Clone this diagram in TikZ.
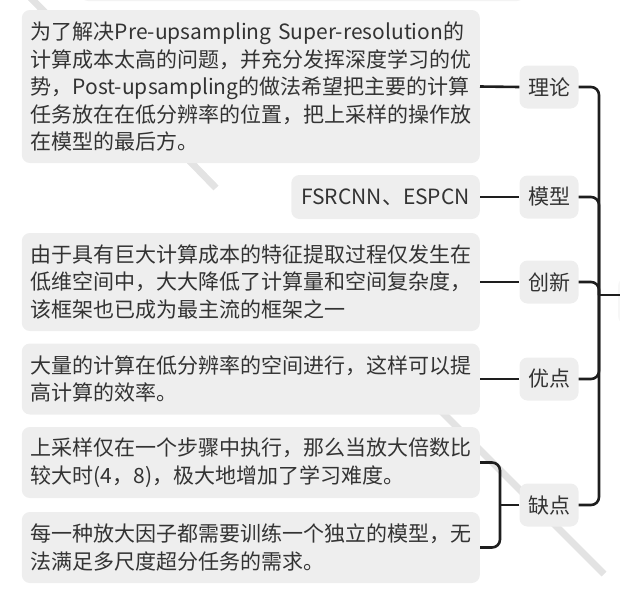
\documentclass[tikz,border=0pt]{standalone}
\usepackage{fontspec}
\newfontfamily\zh{Noto Sans CJK SC}
\definecolor{boxgray}{HTML}{EEEEEE}
\definecolor{txtgray}{HTML}{333333}
\definecolor{linegray}{HTML}{E3E3E3}
\definecolor{ink}{HTML}{1E1E1E}
\tikzset{
  boxed/.style={fill=boxgray, rounded corners=8pt, text=txtgray, font=\zh\fontsize{21}{27.5}\selectfont},
  note/.style={boxed, anchor=east, align=left, text width=440pt, inner xsep=9pt, inner ysep=4pt, minimum height=#1},
  short/.style={boxed, anchor=east, inner xsep=10pt, minimum height=44pt},
  tag/.style={boxed, minimum width=59pt, minimum height=43pt, inner sep=0pt},
  conn/.style={ink, line width=2.6pt, rounded corners=8pt},
}
\begin{document}
\begin{tikzpicture}[x=1pt, y=-1pt] % post-upsampling
  \useasboundingbox (0,0) rectangle (620,592);
  \draw[linegray, line width=7pt] (28,-5) -- (216,188);
  \draw[linegray, line width=7pt] (400,370) -- (604,574);
  \fill[boxgray!70, rounded corners=8pt] (80,-20) rectangle (525,1);
  \fill[boxgray!45, rounded corners=8pt] (618,278) rectangle (660,324);

  \node[note=153pt] (tlun) at (480,86.5) {为了解决Pre-upsampling~Super-resolution的\\计算成本太高的问题，并充分发挥深度学习的优\\势，Post-upsampling的做法希望把主要的计算\\任务放在在低分辨率的位置，把上采样的操作放\\在模型的最后方。};
  \node[short] (tmx) at (480,197) {FSRCNN、ESPCN};
  \node[note=98pt] (tcx) at (480,282) {由于具有巨大计算成本的特征提取过程仅发生在\\低维空间中，大大降低了计算量和空间复杂度，\\该框架也已成为最主流的框架之一};
  \node[note=71pt] (tyd) at (480,379) {大量的计算在低分辨率的空间进行，这样可以提\\高计算的效率。};
  \node[note=71pt] (tqd1) at (480,462.5) {上采样仅在一个步骤中执行，那么当放大倍数比\\较大时(4，8)，极大地增加了学习难度。};
  \node[note=71pt] (tqd2) at (480,547.5) {每一种放大因子都需要训练一个独立的模型，无\\法满足多尺度超分任务的需求。};

  \node[tag] (lun) at (549,87) {理论};
  \node[tag] (mx) at (549,197) {模型};
  \node[tag] (cx) at (549,282) {创新};
  \node[tag] (yd) at (549,379) {优点};
  \node[tag] (qd) at (549,505) {缺点};

  \foreach \a/\b in {tlun/lun, tmx/mx, tcx/cx, tyd/yd}
    \draw[conn] (\a.east) -- (\b.west);
  \coordinate (fork) at (500,505);
  \draw[conn] (tqd1.east) -| (fork) |- (tqd2.east);
  \draw[conn] (qd.west) -- (fork);

  \coordinate (hub) at (599,295);
  \coordinate (root) at (620,295);
  \draw[conn] (lun.east) -| (hub) |- (qd.east);
  \foreach \n in {mx, cx, yd}
    \draw[conn] (\n.east) -| (hub);
  \draw[conn] (hub) -- (root);
\end{tikzpicture}
\end{document}
